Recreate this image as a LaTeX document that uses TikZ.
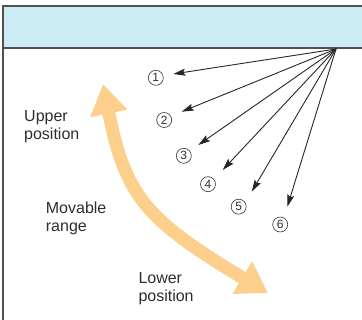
\documentclass[tikz,border=0pt]{standalone}
\usepackage{fontspec}
\setmainfont{Liberation Sans}
\usetikzlibrary{arrows.meta}
\definecolor{bandblue}{RGB}{205,235,245}
\definecolor{rangeorange}{RGB}{252,208,140}
\definecolor{framegray}{RGB}{80,80,80}
\definecolor{textgray}{RGB}{45,45,45}
\begin{document}
\begin{tikzpicture}[x=1pt,y=-1pt,
  framebox/.style={draw=framegray, line width=1.2pt},
  ray/.style={draw=black!85, line width=0.9pt, -{Stealth[length=12pt,width=7pt,inset=2pt]}},
  numlabel/.style={circle, draw=black!80, line width=0.6pt, minimum size=15pt, inner sep=0pt, text=textgray, font=\fontsize{12}{12}\selectfont},
  caption/.style={align=left, font=\fontsize{16}{17.7}\selectfont, text=textgray, inner sep=0pt, anchor=base west},
  rangearrow/.style={draw=rangeorange, line width=13pt, {Triangle[width=36pt,length=30pt]}-{Triangle[width=36pt,length=30pt]}}
]
\useasboundingbox (0,0) rectangle (362,320);
\fill[bandblue] (3,6) rectangle (362,48);
\draw[framebox] (362,6) -- (3,6) -- (3,320);
\draw[framebox] (3,48) -- (362,48);

% fan of arrows
\coordinate (src) at (336,49);
\coordinate (t1) at (173.3,74);
\coordinate (t2) at (181.7,111.7);
\coordinate (t3) at (198.3,145);
\coordinate (t4) at (222.7,170);
\coordinate (t5) at (251.7,191.7);
\coordinate (t6) at (287.3,206.7);
\foreach \i in {1,...,6} {\draw[ray] (src) -- (t\i);}

\node[numlabel] (n1) at (155.8,77.8) {1};
\node[numlabel] (n2) at (164.2,120) {2};
\node[numlabel] (n3) at (183.8,155.8) {3};
\node[numlabel] (n4) at (208,184.2) {4};
\node[numlabel] (n5) at (238.7,206.7) {5};
\node[numlabel] (n6) at (280.2,224.5) {6};

% movable range arrow
\coordinate (rtop) at (103,84);
\coordinate (rbot) at (268,293);
\draw[rangearrow] (rtop) .. controls (125.4,196) and (145.6,219.6) .. (rbot);

% captions
\node[caption] (upper) at (24,139.2) {Upper\\position};
\node[caption] (movable) at (45.7,231.5) {Movable\\range};
\node[caption] (lower) at (138.3,301.5) {Lower\\position};
\end{tikzpicture}
\end{document}
